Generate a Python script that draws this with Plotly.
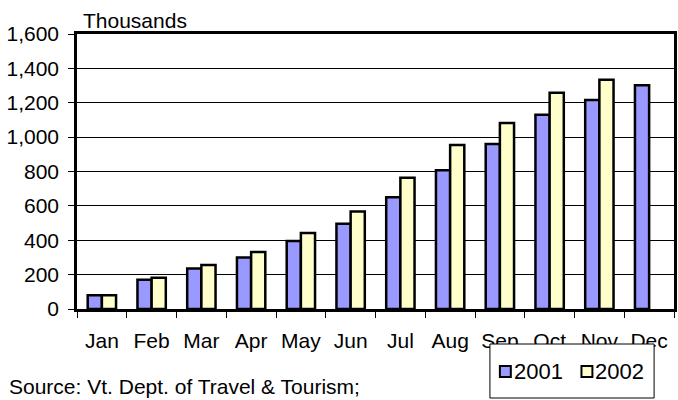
import plotly.graph_objects as go

months = ["Jan", "Feb", "Mar", "Apr", "May", "Jun", "Jul", "Aug", "Sep", "Oct", "Nov", "Dec"]
visitors_2001 = [80, 170, 235, 300, 395, 496, 650, 807, 960, 1130, 1216, 1302]
visitors_2002 = [80, 182, 256, 332, 442, 568, 764, 954, 1082, 1258, 1334, None]
series_names = ["2001", "2002"]
series_colors = ["#9999FF", "#FFFFCC"]
y_ticks = [0, 200, 400, 600, 800, 1000, 1200, 1400, 1600]

FONT = "Liberation Sans, Arial, sans-serif"
FS = 21

# plot-area geometry in pixels (used to place the paper-referenced legend box)
L, R, T, B = 77, 677, 34, 309
def px_x(p):
    return (p - L) / (R - L)
def px_y(p):
    return (B - p) / (B - T)

fig = go.Figure()
for name, vals, col in zip(series_names, [visitors_2001, visitors_2002], series_colors):
    fig.add_trace(go.Bar(
        x=months, y=vals, name=name,
        marker=dict(color=col, line=dict(color="black", width=2.5)),
    ))

# legend drawn as a boxed key (matches reference spacing)
shapes = [
    dict(type="rect", xref="paper", yref="paper", layer="above",
         x0=px_x(492), x1=px_x(657), y0=px_y(398), y1=px_y(344),
         fillcolor="white", line=dict(color="black", width=1)),
]
annotations = [
    dict(text="Thousands", xref="paper", yref="paper", x=px_x(81), y=px_y(21),
         xanchor="left", yanchor="middle", showarrow=False,
         font=dict(family=FONT, size=FS, color="black")),
    dict(text="Source: Vt. Dept. of Travel &amp; Tourism;", xref="paper", yref="paper",
         x=px_x(7), y=px_y(386), xanchor="left", yanchor="middle", showarrow=False,
         font=dict(family=FONT, size=FS, color="black")),
]
sym_x = [502, 584]
for sx, name, col in zip(sym_x, series_names, series_colors):
    shapes.append(dict(type="rect", xref="paper", yref="paper", layer="above",
                       x0=px_x(sx), x1=px_x(sx + 11), y0=px_y(377), y1=px_y(366),
                       fillcolor=col, line=dict(color="black", width=2)))
    annotations.append(dict(text=name, xref="paper", yref="paper",
                            x=px_x(sx + 12), y=px_y(371), xanchor="left", yanchor="middle",
                            showarrow=False, font=dict(family=FONT, size=22, color="black")))

fig.update_layout(
    width=678, height=400, autosize=False,
    margin=dict(l=77, r=1, t=34, b=91, pad=0),
    paper_bgcolor="white", plot_bgcolor="white",
    font=dict(family=FONT, size=FS, color="black"),
    barmode="group", bargap=0.43, bargroupgap=0,
    showlegend=False,
    xaxis=dict(
        showline=True, linecolor="black", linewidth=2.5, mirror=True,
        ticks="outside", tickson="boundaries", ticklen=6, tickcolor="black", tickwidth=1,
        tickfont=dict(family=FONT, size=FS, color="black"),
        ticklabelstandoff=11,
        showgrid=False,
    ),
    yaxis=dict(
        range=[0, 1600], tickvals=y_ticks, tickformat=",",
        showgrid=True, gridcolor="black", gridwidth=1,
        showline=True, linecolor="black", linewidth=2.5, mirror=True,
        ticks="outside", ticklen=6, tickcolor="black", tickwidth=1,
        tickfont=dict(family=FONT, size=FS, color="black"),
        ticklabelstandoff=5,
        zeroline=False,
    ),
    shapes=shapes,
    annotations=annotations,
)

fig.write_html("out.html", config={"displayModeBar": False},
               post_script="document.body.style.margin='0';document.body.style.padding='0';")
